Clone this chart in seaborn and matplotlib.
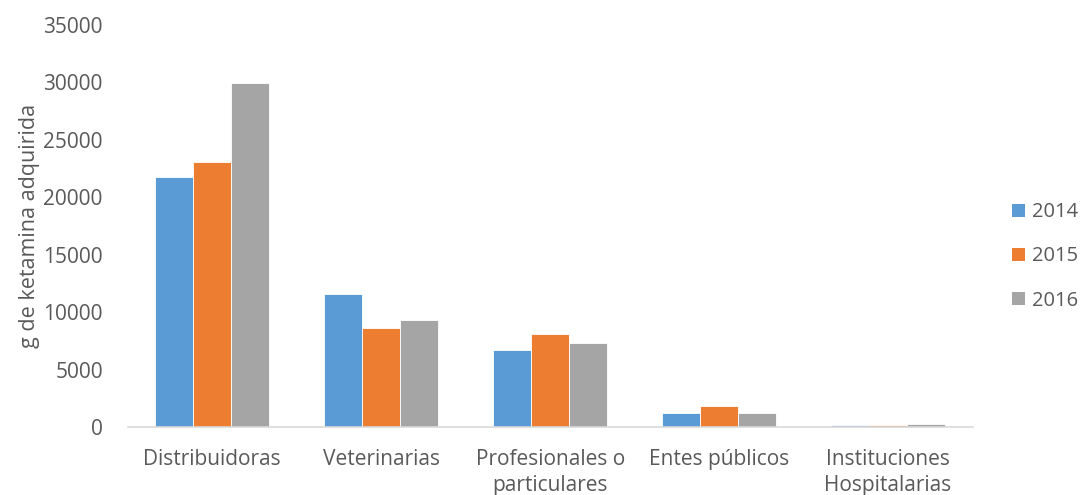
import matplotlib
matplotlib.use("Agg")
import matplotlib.pyplot as plt
import seaborn as sns
import pandas as pd
from matplotlib.patches import Patch

categories = ["Distribuidoras", "Veterinarias", "Profesionales o\nparticulares",
              "Entes públicos", "Instituciones\nHospitalarias"]
years = ["2014", "2015", "2016"]
v2014 = [21800, 11600, 6700, 1230, 180]
v2015 = [23100, 8600, 8150, 1850, 220]
v2016 = [29950, 9350, 7350, 1230, 260]
y_ticks = [0, 5000, 10000, 15000, 20000, 25000, 30000, 35000]
colors = ["#5B9BD5", "#ED7D31", "#A5A5A5"]

rows = []
for yr, vals in zip(years, [v2014, v2015, v2016]):
    for c, v in zip(categories, vals):
        rows.append({"categoria": c, "año": yr, "gramos": v})
df = pd.DataFrame(rows)

sns.set_style("white")
plt.rcParams["font.family"] = ["Open Sans", "DejaVu Sans"]
text_color = "#595959"
fs = 15

fig = plt.figure(figsize=(10.83, 4.95), dpi=100)
ax = fig.add_axes([0.118, 0.137, 0.780, 0.8125])

sns.barplot(data=df, x="categoria", y="gramos", hue="año", order=categories,
            hue_order=years, palette=colors, width=0.675, gap=0,
            edgecolor="white", linewidth=0.6, saturation=1, ax=ax, legend=False)

ax.set_ylim(0, 35000)
ax.set_xlim(-0.5, len(categories) - 0.5)
ax.set_yticks(y_ticks)
ax.set_yticklabels([str(t) for t in y_ticks])
ax.tick_params(axis="y", length=0, pad=18, labelsize=fs, labelcolor=text_color)
ax.tick_params(axis="x", length=0, pad=16, labelsize=fs, labelcolor=text_color)
for lbl in ax.get_xticklabels():
    lbl.set_linespacing(1.3)
ax.set_xlabel("")
ax.set_ylabel("g de ketamina adquirida", fontsize=15.5, color=text_color, labelpad=2)

for side in ["top", "right", "left"]:
    ax.spines[side].set_visible(False)
ax.spines["bottom"].set_color("#D9D9D9")
ax.spines["bottom"].set_linewidth(1.2)

handles = [Patch(facecolor=c, edgecolor="none", label=y) for c, y in zip(colors, years)]
fig.legend(handles=handles, loc="center left", bbox_to_anchor=(0.918, 0.482),
           frameon=False, fontsize=14.5, labelcolor=text_color,
           handlelength=0.62, handleheight=0.62, handletextpad=0.35,
           labelspacing=1.2)

fig.savefig("out.png", dpi=100)
